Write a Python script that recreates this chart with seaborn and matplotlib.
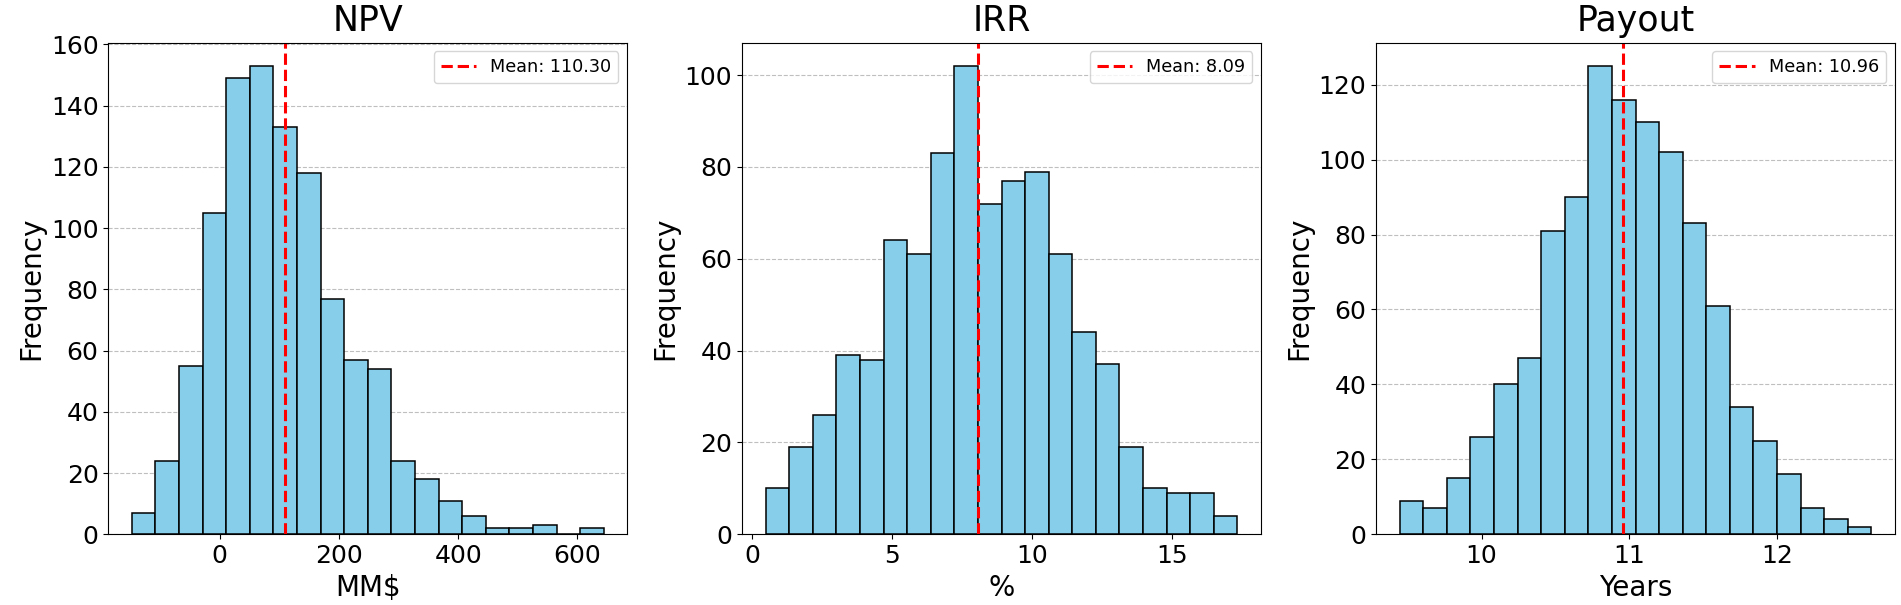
import numpy as np
import pandas as pd
import matplotlib
matplotlib.use("Agg")
import matplotlib.pyplot as plt
import seaborn as sns

# ---- data ----
titles = ["NPV", "IRR", "Payout"]
xlabels = ["MM$", "%", "Years"]

npv_counts = [7, 24, 55, 105, 149, 153, 133, 118, 77, 57, 54, 24, 18, 11, 6, 2, 2, 3, 0, 2]
npv_range = [-147.0, 644.0]
npv_mean = 110.30

irr_counts = [10, 19, 26, 39, 38, 64, 61, 83, 102, 72, 77, 79, 61, 44, 37, 19, 10, 9, 9, 4]
irr_range = [0.48, 17.35]
irr_mean = 8.09

payout_counts = [9, 7, 15, 26, 40, 47, 81, 90, 125, 116, 110, 102, 83, 61, 34, 25, 16, 7, 4, 2]
payout_range = [9.445, 12.641]
payout_mean = 10.96

series = [
    (npv_counts, npv_range, npv_mean),
    (irr_counts, irr_range, irr_mean),
    (payout_counts, payout_range, payout_mean),
]

fig = plt.figure(figsize=(19.01, 6.05), dpi=100)
lefts = [108.3, 742.0, 1376.0]
W, H = 1901.0, 605.0
axw, axh = 519.0, 491.8
bottom = (H - 534.3) / H

for i, ((counts, rng, mean), title, xl) in enumerate(zip(series, titles, xlabels)):
    ax = fig.add_axes([lefts[i] / W, bottom, axw / W, axh / H])
    nb = len(counts)
    width = (rng[1] - rng[0]) / nb
    centers = [rng[0] + width * (k + 0.5) for k in range(nb)]
    df = pd.DataFrame({"x": centers, "w": counts})
    sns.histplot(data=df, x="x", weights="w", bins=nb, binrange=tuple(rng), ax=ax,
                 color="skyblue", edgecolor="black", linewidth=1.1, alpha=1.0)
    ax.axvline(mean, color="red", linestyle="--", linewidth=2.2,
               label=f"Mean: {mean:.2f}")
    ax.set_title(title, fontsize=25, pad=8)
    ax.set_xlabel(xl, fontsize=20)
    ax.set_ylabel("Frequency", fontsize=20)
    ax.tick_params(axis="both", labelsize=18)
    ax.grid(axis="y", linestyle="--", color="#b0b0b0", alpha=0.8)
    ax.set_axisbelow(True)
    ax.legend(loc="upper right", fontsize=12.7)

fig.savefig("out.png", dpi=100)
